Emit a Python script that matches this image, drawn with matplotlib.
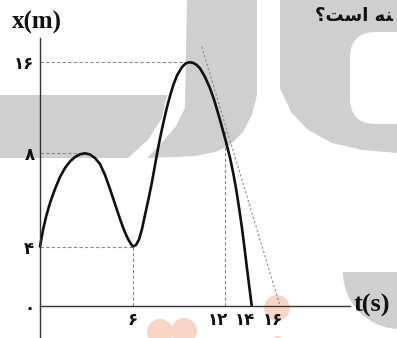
import numpy as np
import matplotlib
matplotlib.use('Agg')
import matplotlib.pyplot as plt
import matplotlib.transforms as mtransforms
import matplotlib.patches as mpatches

# curve: t in s, x in m
t_vals = [0.0, 0.194, 0.387, 0.645, 0.968, 1.29, 1.613, 1.935, 2.258, 2.581, 2.903,
          3.226, 3.548, 3.871, 4.194, 4.516, 4.839, 5.161, 5.419, 5.677, 5.871, 6.0,
          6.196, 6.391, 6.587, 6.783, 7.011, 7.22, 7.402, 7.565, 7.761, 7.976, 8.198,
          8.413, 8.628, 8.87, 9.176, 9.424, 9.672, 9.914, 10.141, 10.37, 10.696, 11.022,
          11.283, 11.563, 11.837, 12.127, 12.397, 12.622, 12.846, 13.049, 13.251,
          13.438, 13.625, 13.813, 14.0]
x_vals = [4.0, 4.708, 5.266, 5.867, 6.468, 6.983, 7.369, 7.648, 7.841, 7.957, 8.0,
          7.948, 7.798, 7.541, 7.069, 6.468, 5.824, 5.18, 4.708, 4.322, 4.107, 4.0,
          4.064, 4.3, 4.751, 5.352, 6.039, 6.712, 7.369, 7.97, 9.319, 10.664, 11.956,
          13.037, 14.004, 14.84, 15.543, 15.894, 16.0, 15.956, 15.78, 15.473, 14.708,
          13.714, 12.73, 11.455, 10.136, 8.774, 7.755, 7.133, 6.425, 5.674, 4.88,
          4.043, 2.682, 1.331, 0.0]

# tangent line (dotted) and guide points
tan_t = [10.48, 16.0]
tan_x = [17.37, 0.0]
t12_top = 9.96

xticks = [6, 12, 14, 16]
xtick_labels = ['۶', '۱۲', '۱۴', '۱۶']
yticks = [0, 4, 8, 16]
ytick_labels = ['۰', '۴', '۸', '۱۶']

# the drawing is not to scale, so the axes use piecewise scales
t_knots = np.array([-20, 0, 6, 12, 14, 16, 40])
t_pix = np.array([-270, 40, 133, 225, 251.7, 280, 619.6])
x_knots = np.array([-10, 0, 4, 8, 16, 40])
x_pix = np.array([-115.7, 32.3, 91.5, 184.7, 275.7, 549.3])

def fwd_t(v):
    return np.interp(v, t_knots, t_pix)

def inv_t(v):
    return np.interp(v, t_pix, t_knots)

def fwd_x(v):
    return np.interp(v, x_knots, x_pix)

def inv_x(v):
    return np.interp(v, x_pix, x_knots)

W, H = 397, 338
fig = plt.figure(figsize=(W / 100, H / 100), dpi=100)

# faint watermark behind the chart (pixel coords, y down)
px = mtransforms.Affine2D().scale(1 / W, -1 / H).translate(0, 1) + fig.transFigure
grey = '#cfcfcf'
wm = [
    mpatches.Polygon([(0, 95), (167, 95), (162, 118), (148, 140), (128, 158), (0, 158)]),
    mpatches.Polygon([(187, 0), (257, 0), (257, 95), (252, 115), (243, 132), (230, 145),
                      (215, 152), (195, 156), (175, 157), (147, 158), (160, 145),
                      (176, 126), (185, 108)]),
    mpatches.Polygon([(280, 0), (397, 0), (397, 153), (362, 150), (332, 143), (308, 130),
                      (291, 112), (280, 88)]),
    mpatches.Wedge((400, 272), 57, 90, 180),
]
for p in wm:
    p.set_facecolor(grey)
    p.set_edgecolor('none')
    p.set_transform(px)
    p.set_zorder(-5)
    fig.add_artist(p)
inner = mpatches.FancyBboxPatch((350, 32), 80, 92, boxstyle='round,pad=0,rounding_size=26',
                                facecolor='white', edgecolor='none', transform=px, zorder=-4)
fig.add_artist(inner)
for cx, cy, r in [(277, 308, 13), (160, 332, 13), (184, 331, 13), (278, 342, 6)]:
    fig.add_artist(mpatches.Circle((cx, cy), r, facecolor='#f8d6c6', edgecolor='none',
                                   transform=px, zorder=-3))

ax = fig.add_axes([0, 0, 1, 1])
ax.set_xscale('function', functions=(fwd_t, inv_t))
ax.set_yscale('function', functions=(fwd_x, inv_x))
ax.set_xlim(float(inv_t(0)), float(inv_t(W)))
ax.set_ylim(float(inv_x(0)), float(inv_x(H)))
ax.patch.set_alpha(0)

dash = dict(color='#8a8a8a', lw=0.8, dashes=(3, 2))
ax.plot([0, 9.67], [16, 16], **dash)
ax.plot([0, 2.9], [8, 8], **dash)
ax.plot([0, 6], [4, 4], **dash)
ax.plot([6, 6], [0, 4], **dash)
ax.plot([12, 12], [0, t12_top], **dash)
ax.plot(tan_t, tan_x, color='#8a8a8a', lw=0.8, dashes=(2, 2))

ax.plot(t_vals, x_vals, color='#111111', lw=1.9, solid_capstyle='round',
        solid_joinstyle='round')

for s in ['top', 'right']:
    ax.spines[s].set_visible(False)
ax.spines['left'].set_position(('data', 0))
ax.spines['bottom'].set_position(('data', 0))
ax.spines['left'].set_bounds(float(inv_x(0)), float(inv_x(300)))
ax.spines['bottom'].set_bounds(0, float(inv_t(350)))
for s in ['left', 'bottom']:
    ax.spines[s].set_color('#333333')
    ax.spines[s].set_linewidth(1.0)

ax.set_xticks(xticks)
ax.set_xticklabels(xtick_labels, fontsize=12, fontweight='bold', family='DejaVu Sans')
ax.set_yticks(yticks)
ax.set_yticklabels(ytick_labels, fontsize=12, fontweight='bold', family='DejaVu Sans')
ax.tick_params(length=0, pad=4, colors='#111111')
ax.minorticks_off()

shift = mtransforms.ScaledTranslation(-7 / 100, 0, fig.dpi_scale_trans)
for lab in ax.get_xticklabels()[1:]:
    lab.set_transform(lab.get_transform() + shift)

ax.text(float(inv_t(12)), float(inv_x(338 - 22)), 'x(m)', fontsize=18, fontweight='bold',
        family='Liberation Serif', ha='left', va='center', color='#111111')
ax.text(float(inv_t(354)), 0, 't(s)', fontsize=19, fontweight='bold',
        family='Liberation Serif', ha='left', va='center', color='#111111')

# question text at the top right (cut off in the original)
fig.text(315 / W, 1 - 16 / H, '؟ﺖﺳﺍ ﻪﻨ', fontsize=13, fontweight='bold',
         family='DejaVu Sans', ha='left', va='center', color='#111111')

fig.savefig('out.png', dpi=100)
